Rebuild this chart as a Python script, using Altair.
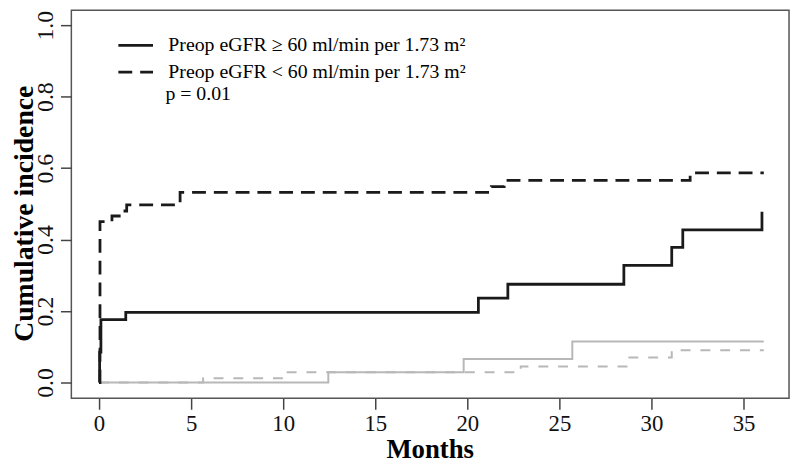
import altair as alt
import pandas as pd

# ---- data ----
months_ge60 = [0, 0.03, 0.1, 1.45, 20.6, 22.2, 28.5, 31.1, 31.7, 36.0]
cif_ge60 = [0, 0.085, 0.176, 0.196, 0.236, 0.275, 0.328, 0.378, 0.427, 0.478]

months_lt60 = [0, 0.05, 0.7, 1.25, 1.5, 4.4, 21.3, 22.0, 32.1, 36.1]
cif_lt60 = [0, 0.45, 0.466, 0.48, 0.497, 0.532, 0.548, 0.566, 0.587, 0.587]

months_ge60_comp = [0, 12.45, 19.8, 25.7, 36.1]
cif_ge60_comp = [0, 0.029, 0.066, 0.115, 0.115]

months_lt60_comp = [0, 5.65, 10.0, 22.9, 28.8, 31.1, 36.1]
cif_lt60_comp = [0, 0.012, 0.029, 0.045, 0.07, 0.09, 0.09]

legend_labels = ["Preop eGFR \u2265 60 ml/min per 1.73 m\u00b2",
                 "Preop eGFR < 60 ml/min per 1.73 m\u00b2"]
p_text = ["p = 0.01"]
x_ticks = [0, 5, 10, 15, 20, 25, 30, 35]
y_ticks = [0.0, 0.2, 0.4, 0.6, 0.8, 1.0]

FONT = "Liberation Serif"
BLACK = "#1a1a1a"
GRAY = "#b8b8b8"

main = pd.concat([
    pd.DataFrame({"month": months_ge60, "cif": cif_ge60, "group": legend_labels[0]}),
    pd.DataFrame({"month": months_lt60, "cif": cif_lt60, "group": legend_labels[1]}),
])
comp_ge = pd.DataFrame({"month": months_ge60_comp, "cif": cif_ge60_comp})
comp_lt = pd.DataFrame({"month": months_lt60_comp, "cif": cif_lt60_comp})

x_enc = alt.X("month:Q", scale=alt.Scale(domain=[-1.505, 37.47], nice=False, zero=False),
              axis=alt.Axis(values=x_ticks, format="d", title="Months",
                            labelFontSize=23, labelPadding=3, tickSize=11,
                            titleX=362, titleY=60, titleAlign="center",
                            titleBaseline="alphabetic", titleFontSize=27))
y_enc = alt.Y("cif:Q", scale=alt.Scale(domain=[-0.0443, 1.0416], nice=False, zero=False),
              axis=alt.Axis(values=y_ticks, format=".1f", title="Cumulative incidence",
                            labelFontSize=24, labelAngle=270, labelAlign="center",
                            labelBaseline="alphabetic", labelPadding=8, tickSize=11,
                            titleAngle=270, titleX=-39, titleY=205, titleAlign="center",
                            titleBaseline="alphabetic", titleFontSize=28))

gray_solid = alt.Chart(comp_ge).mark_line(interpolate="step-after", color=GRAY, strokeWidth=2).encode(
    x=x_enc, y=y_enc)
gray_dash = alt.Chart(comp_lt).mark_line(interpolate="step-after", color=GRAY, strokeWidth=2,
                                         strokeDash=[10, 10]).encode(x=x_enc, y=y_enc)

black = alt.Chart(main).mark_line(interpolate="step-after", color=BLACK, strokeWidth=2.8).encode(
    x=x_enc, y=y_enc,
    strokeDash=alt.StrokeDash("group:N",
                              scale=alt.Scale(domain=legend_labels, range=[[1, 0], [14, 8]]),
                              legend=alt.Legend(title=None, orient="none", legendX=53.5, legendY=24,
                                                symbolType="M-1.75,0H1.75", symbolSize=400,
                                                symbolStrokeWidth=2.8, symbolStrokeColor=BLACK,
                                                labelFont=FONT, labelFontSize=20, labelColor="black",
                                                labelOffset=21.5, rowPadding=5, padding=0,
                                                labelLimit=0)),
)

ptext = alt.Chart(pd.DataFrame({"t": p_text})).mark_text(
    font=FONT, fontSize=20, align="left", baseline="middle", color="black"
).encode(x=alt.value(95), y=alt.value(85), text="t:N")

chart = alt.layer(gray_solid, gray_dash, black, ptext).properties(
    width=725, height=392,
    autosize=alt.AutoSizeParams(type="none"),
    padding={"left": 64, "top": 0, "right": 3, "bottom": 66},
    background="white",
).configure_view(stroke="#555555", strokeWidth=1.5).configure_axis(
    grid=False, domain=False, labelFont=FONT, titleFont=FONT, labelColor="#111111",
    titleColor="black", tickColor="#444444", tickWidth=1.5, titleFontWeight="bold"
)

chart.save("out.html", embed_options={"renderer": "svg", "actions": False})
